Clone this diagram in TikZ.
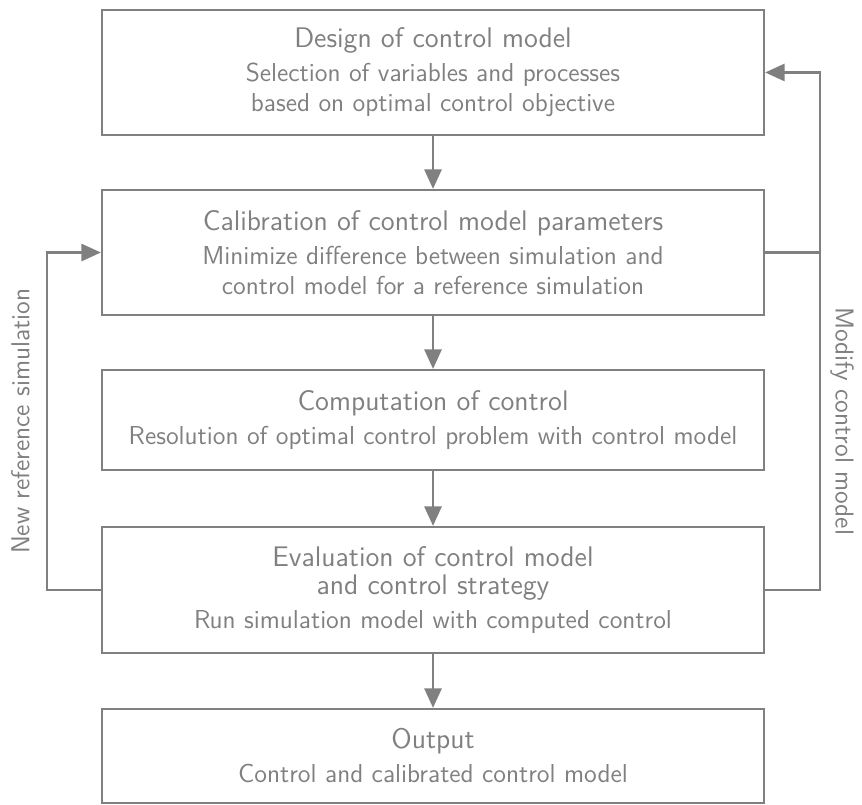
\documentclass[tikz,border=0pt]{standalone}
\usepackage{fontspec}
\usetikzlibrary{arrows.meta}

\definecolor{linegray}{HTML}{808080}
\newcommand{\boxtitle}[1]{{\fontsize{12.4}{12.25}\selectfont #1}}

\tikzset{
  looplabel/.style={anchor=south, inner sep=7pt, font=\sffamily\fontsize{11.35}{13.1}\selectfont}
}

\begin{document}
\begin{tikzpicture}[color=linegray, line width=1pt, font=\sffamily,
    >={Triangle[length=8.5pt,width=7.5pt]}]

        \useasboundingbox (0,0) rectangle (13.262,-12.385);

        \begin{scope}[every node/.style={draw, rectangle, minimum width=10.185cm, align=center,
            font=\sffamily\fontsize{11.35}{13.1}\selectfont}]
          \node[minimum height=1.923cm] (design) at (6.662,-1.115)  {\boxtitle{Design of control model}\\[1.8pt]
            Selection of variables and processes\\ based on optimal control objective};
          \node[minimum height=1.923cm] (calib)  at (6.662,-3.885)  {\boxtitle{Calibration of control model parameters}\\[1.8pt]
            Minimize difference between simulation and\\ control model for a reference simulation};
          \node[minimum height=1.538cm] (comp)   at (6.662,-6.462)  {\boxtitle{Computation of control}\\[1.8pt]
            Resolution of optimal control problem with control model};
          \node[minimum height=1.938cm] (eval)   at (6.662,-9.077)  {\boxtitle{Evaluation of control model}\\[-0.85pt]
            \boxtitle{and control strategy}\\[1.8pt] Run simulation model with computed control};
          \node[minimum height=1.446cm] (output) at (6.662,-11.631) {\boxtitle{Output}\\[1.8pt]
            Control and calibrated control model};
        \end{scope}

        \begin{scope}[every edge/.style={draw, ->}]
          \path (design) edge (calib);
          \path (calib)  edge (comp);
          \path (comp)   edge (eval);
          \path (eval)   edge (output);
        \end{scope}

        % feedback loops
        \draw[->] (eval.west) -- ++(-0.831,0) |- node[pos=0.25, looplabel, rotate=90] {New reference simulation} (calib.west);
        \draw (eval.east) -- ++(0.846,0) coordinate (modify) |- node[pos=0.25, looplabel, rotate=-90, inner sep=4pt] {Modify control model} (calib.east);
        \draw[->] (calib.east -| modify) |- (design.east);

      \end{tikzpicture}
\end{document}
